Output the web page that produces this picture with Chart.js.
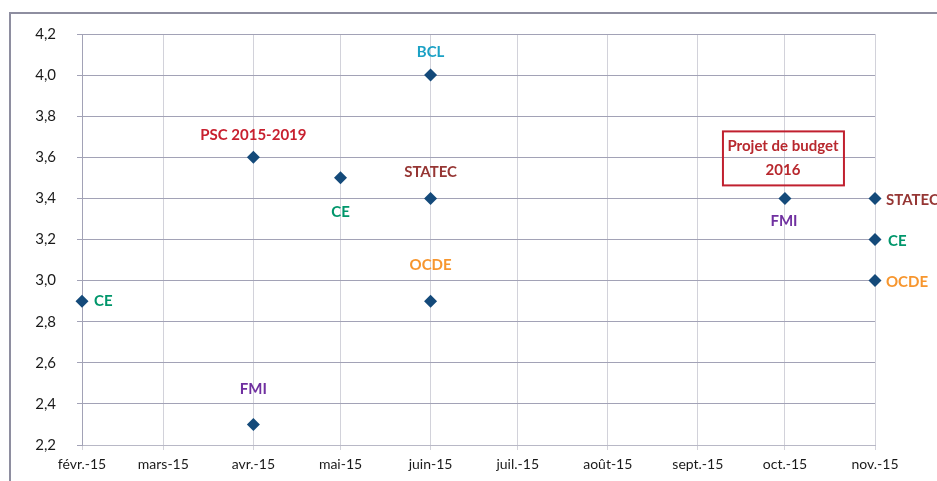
<!DOCTYPE html>
<html>
<head>
<meta charset="utf-8">
<script src="https://cdn.jsdelivr.net/npm/chart.js@4"></script>
<style>
  html, body { margin: 0; padding: 0; background: #fff; }
</style>
</head>
<body>
<canvas id="chart" width="937" height="481"></canvas>
<script>
// ---- data ----
var monthLabels = ['févr.-15', 'mars-15', 'avr.-15', 'mai-15', 'juin-15', 'juil.-15', 'août-15', 'sept.-15', 'oct.-15', 'nov.-15'];
var monthLengths = [28, 31, 30, 31, 30, 31, 31, 30, 31]; // days, févr -> oct
var yTicks = [2.2, 2.4, 2.6, 2.8, 3.0, 3.2, 3.4, 3.6, 3.8, 4.0, 4.2];

var sources      = ['CE', 'PSC 2015-2019', 'FMI', 'CE', 'BCL', 'STATEC', 'OCDE', 'FMI', 'STATEC', 'CE', 'OCDE'];
var sourceMonths = ['févr.-15', 'avr.-15', 'avr.-15', 'mai-15', 'juin-15', 'juin-15', 'juin-15', 'oct.-15', 'nov.-15', 'nov.-15', 'nov.-15'];
var growth       = [2.9, 3.6, 2.3, 3.5, 4.0, 3.4, 2.9, 3.4, 3.4, 3.2, 3.0];
var boxLines = ['Projet de budget', '2016'];

// day offset of each month start (from 1 Feb)
var monthOffsets = [0];
monthLengths.forEach(function (d, i) { monthOffsets.push(monthOffsets[i] + d); });

var points = growth.map(function (v, i) {
    return { x: monthOffsets[monthLabels.indexOf(sourceMonths[i])], y: v };
});

// ---- styles ----
var sourceColors = {
    'CE': '#00966b',
    'PSC 2015-2019': '#c8202f',
    'FMI': '#7030a0',
    'BCL': '#1ba1c5',
    'STATEC': '#963634',
    'OCDE': '#f7962e'
};
// [dx, dy, align] for each label, relative to its point
var labelPlacement = [
    [12, 0, 'left'], [0, -22, 'center'], [0, -35, 'center'], [0, 34, 'center'],
    [0, -23, 'center'], [0, -26, 'center'], [0, -36, 'center'], [-1, 23, 'center'],
    [11, 2, 'left'], [13, 2, 'left'], [11, 2, 'left']
];

var frame = {
    id: 'frame',
    beforeDraw: function (chart) {
        var ctx = chart.ctx;
        ctx.save();
        ctx.strokeStyle = '#8e8ea0';
        ctx.lineWidth = 2;
        ctx.beginPath();
        ctx.moveTo(10, 481);
        ctx.lineTo(10, 13);
        ctx.lineTo(937, 13);
        ctx.stroke();
        ctx.restore();
    }
};

var labels = {
    id: 'labels',
    afterDatasetsDraw: function (chart) {
        var ctx = chart.ctx;
        var meta = chart.getDatasetMeta(0);
        ctx.save();
        ctx.font = 'bold 15px Lato';
        ctx.textBaseline = 'middle';
        meta.data.forEach(function (el, i) {
            var p = labelPlacement[i];
            ctx.fillStyle = sourceColors[sources[i]];
            ctx.textAlign = p[2];
            ctx.fillText(sources[i], el.x + p[0], el.y + p[1]);
        });

        // annotation box above the oct. point
        var oct = meta.data[7];
        ctx.strokeStyle = '#c0202f';
        ctx.lineWidth = 2;
        ctx.strokeRect(oct.x - 62, oct.y - 67, 121, 54);
        ctx.fillStyle = '#b8282e';
        ctx.font = 'bold 15px Lato';
        ctx.textAlign = 'center';
        ctx.fillText(boxLines[0], oct.x - 2, oct.y - 52);
        ctx.fillText(boxLines[1], oct.x - 2, oct.y - 28);
        ctx.restore();
    }
};

new Chart(document.getElementById('chart').getContext('2d'), {
    type: 'scatter',
    data: {
        datasets: [{
            data: points,
            clip: false,
            pointStyle: 'rectRot',
            pointRadius: 6.5,
            pointHoverRadius: 6.5,
            backgroundColor: '#144a7a',
            borderColor: '#144a7a',
            borderWidth: 0
        }]
    },
    options: {
        responsive: false,
        animation: false,
        events: [],
        layout: { padding: { left: 10, right: 62, top: 34, bottom: 0 } },
        plugins: { legend: { display: false }, tooltip: { enabled: false } },
        scales: {
            x: {
                type: 'linear',
                min: monthOffsets[0],
                max: monthOffsets[monthOffsets.length - 1],
                afterBuildTicks: function (axis) {
                    axis.ticks = monthOffsets.map(function (v) { return { value: v }; });
                },
                afterFit: function (axis) { axis.height = 36; },
                ticks: {
                    autoSkip: false,
                    maxRotation: 0,
                    padding: 6,
                    color: '#1a1a1a',
                    font: { family: 'Lato', size: 14 },
                    callback: function (v, i) { return monthLabels[i]; }
                },
                grid: { color: '#d2d2da', tickLength: 5 },
                border: { color: '#b8b8c6' }
            },
            y: {
                min: yTicks[0],
                max: yTicks[yTicks.length - 1],
                afterBuildTicks: function (axis) {
                    axis.ticks = yTicks.map(function (v) { return { value: v }; });
                },
                afterFit: function (axis) { axis.width = 72; },
                ticks: {
                    padding: 21,
                    color: '#1a1a1a',
                    font: { family: 'Lato', size: 15 },
                    callback: function (v) { return v.toFixed(1).replace('.', ','); }
                },
                grid: { color: '#a2a2b6', tickLength: 5 },
                border: { color: '#a2a2b6' }
            }
        }
    },
    plugins: [frame, labels]
});
</script>
</body>
</html>
